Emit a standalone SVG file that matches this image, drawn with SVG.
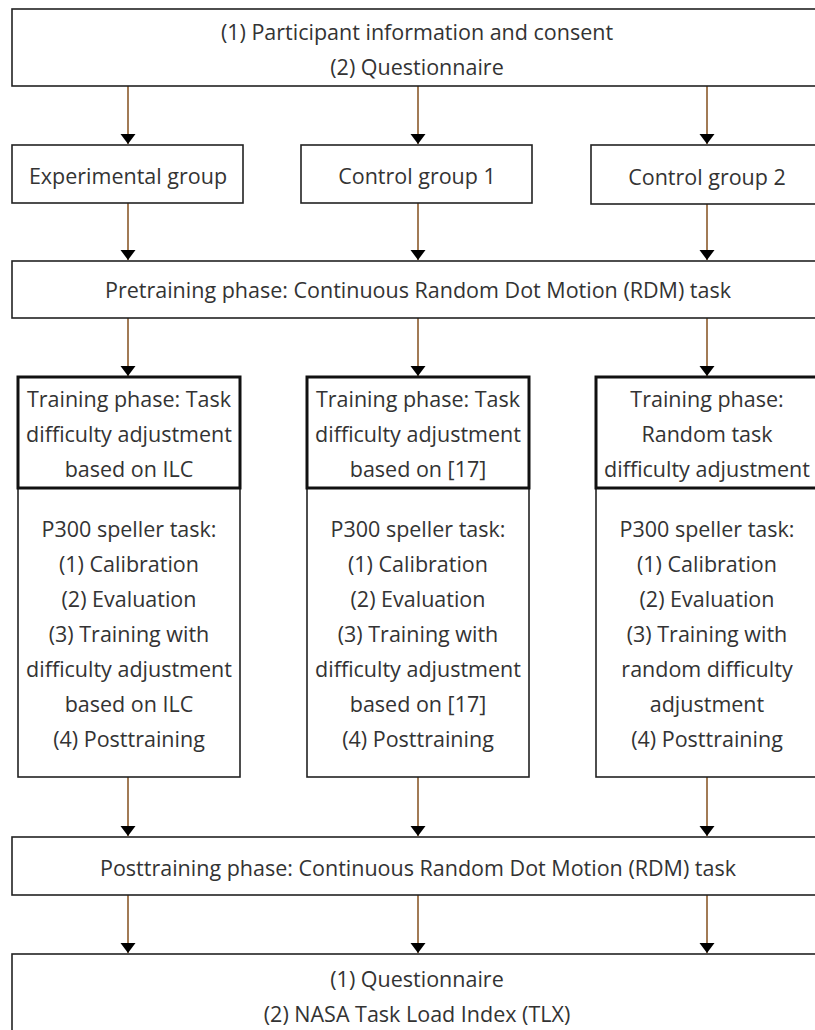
<svg xmlns="http://www.w3.org/2000/svg" width="815" height="1030" viewBox="0 0 815 1030">
<defs>
<style>
.box{fill:#fff;stroke:#222;stroke-width:1.6}
.thick{fill:#fff;stroke:#111;stroke-width:3}
.t{font-family:"Open Sans","Liberation Sans",sans-serif;font-size:21.5px;fill:#333;text-anchor:middle;dominant-baseline:central}
.c{stroke:#8b5a2b;stroke-width:1.6;fill:none}
</style>
<marker id="ah" markerUnits="userSpaceOnUse" markerWidth="12" markerHeight="16" refX="10" refY="8" orient="auto">
<path d="M0,0.5 L10,8 L0,15.5 Z" fill="#000"/>
</marker>
</defs>
<rect width="815" height="1030" fill="#fff"/>

<g id="connectors">
<path class="c" d="M128,86 V144" marker-end="url(#ah)"/>
<path class="c" d="M418,86 V144" marker-end="url(#ah)"/>
<path class="c" d="M707,86 V144" marker-end="url(#ah)"/>
<path class="c" d="M128,203 V260" marker-end="url(#ah)"/>
<path class="c" d="M418,203 V260" marker-end="url(#ah)"/>
<path class="c" d="M707,204 V260" marker-end="url(#ah)"/>
<path class="c" d="M128,318 V376" marker-end="url(#ah)"/>
<path class="c" d="M418,318 V376" marker-end="url(#ah)"/>
<path class="c" d="M707,318 V376" marker-end="url(#ah)"/>
<path class="c" d="M128,777 V836" marker-end="url(#ah)"/>
<path class="c" d="M418,777 V836" marker-end="url(#ah)"/>
<path class="c" d="M707,777 V836" marker-end="url(#ah)"/>
<path class="c" d="M128,895 V953" marker-end="url(#ah)"/>
<path class="c" d="M418,895 V953" marker-end="url(#ah)"/>
<path class="c" d="M707,895 V953" marker-end="url(#ah)"/>
</g>

<g id="start">
<rect class="box" x="12" y="9" width="830" height="77"/>
<text class="t" x="417" y="31">(1) Participant information and consent</text>
<text class="t" x="417" y="66">(2) Questionnaire</text>
</g>

<g id="group-exp">
<rect class="box" x="12" y="145" width="231" height="58"/>
<text class="t" x="128" y="175">Experimental group</text>
</g>
<g id="group-c1">
<rect class="box" x="301" y="145" width="231" height="58"/>
<text class="t" x="417" y="175">Control group 1</text>
</g>
<g id="group-c2">
<rect class="box" x="591" y="145" width="240" height="59"/>
<text class="t" x="707" y="176">Control group 2</text>
</g>

<g id="pretraining">
<rect class="box" x="12" y="261" width="830" height="57"/>
<text class="t" x="418" y="289">Pretraining phase: Continuous Random Dot Motion (RDM) task</text>
</g>

<g id="training-exp">
<rect class="box" x="18" y="488" width="222" height="289"/>
<rect class="thick" x="18" y="377" width="222" height="111"/>
<text class="t" x="129" y="398">Training phase: Task</text>
<text class="t" x="129" y="433">difficulty adjustment</text>
<text class="t" x="129" y="468">based on ILC</text>
<text class="t" x="129" y="528">P300 speller task:</text>
<text class="t" x="129" y="563">(1) Calibration</text>
<text class="t" x="129" y="598">(2) Evaluation</text>
<text class="t" x="129" y="633">(3) Training with</text>
<text class="t" x="129" y="668">difficulty adjustment</text>
<text class="t" x="129" y="703">based on ILC</text>
<text class="t" x="129" y="738">(4) Posttraining</text>
</g>

<g id="training-c1">
<rect class="box" x="307" y="488" width="222" height="289"/>
<rect class="thick" x="307" y="377" width="222" height="111"/>
<text class="t" x="418" y="398">Training phase: Task</text>
<text class="t" x="418" y="433">difficulty adjustment</text>
<text class="t" x="418" y="468">based on [17]</text>
<text class="t" x="418" y="528">P300 speller task:</text>
<text class="t" x="418" y="563">(1) Calibration</text>
<text class="t" x="418" y="598">(2) Evaluation</text>
<text class="t" x="418" y="633">(3) Training with</text>
<text class="t" x="418" y="668">difficulty adjustment</text>
<text class="t" x="418" y="703">based on [17]</text>
<text class="t" x="418" y="738">(4) Posttraining</text>
</g>

<g id="training-c2">
<rect class="box" x="596" y="488" width="222" height="289"/>
<rect class="thick" x="596" y="377" width="222" height="111"/>
<text class="t" x="707" y="398">Training phase:</text>
<text class="t" x="707" y="433">Random task</text>
<text class="t" x="707" y="468">difficulty adjustment</text>
<text class="t" x="707" y="528">P300 speller task:</text>
<text class="t" x="707" y="563">(1) Calibration</text>
<text class="t" x="707" y="598">(2) Evaluation</text>
<text class="t" x="707" y="633">(3) Training with</text>
<text class="t" x="707" y="668">random difficulty</text>
<text class="t" x="707" y="703">adjustment</text>
<text class="t" x="707" y="738">(4) Posttraining</text>
</g>

<g id="posttraining">
<rect class="box" x="12" y="837" width="830" height="58"/>
<text class="t" x="418" y="867">Posttraining phase: Continuous Random Dot Motion (RDM) task</text>
</g>

<g id="end">
<rect class="box" x="12" y="954" width="830" height="100"/>
<text class="t" x="417" y="978">(1) Questionnaire</text>
<text class="t" x="417" y="1013">(2) NASA Task Load Index (TLX)</text>
</g>
</svg>
